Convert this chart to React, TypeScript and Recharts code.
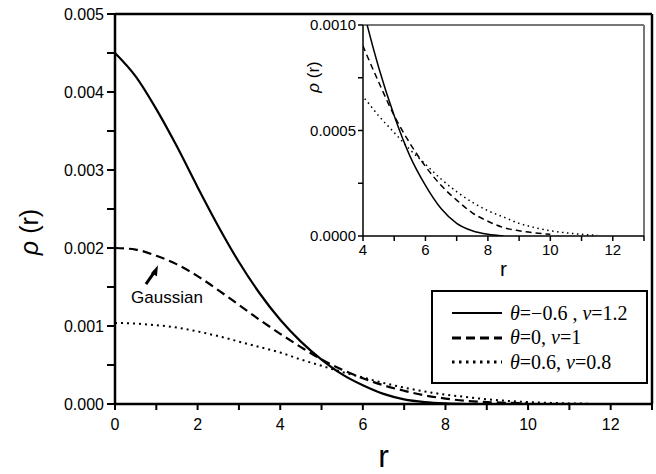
import { LineChart, Line, XAxis, YAxis, ReferenceLine, ReferenceDot, Label } from "recharts";

// r grid (shared by all curves, each curve stops where it reaches ~0)
const rGrid = [0, 0.5, 1, 1.5, 2, 2.5, 3, 3.5, 4, 4.5, 5, 5.5, 6, 6.5, 7, 7.5, 8, 8.5, 9, 9.5, 10, 10.5, 11, 11.5];

// theta=-0.6, nu=1.2
const rhoSolid = [0.0045, 0.0042, 0.00378, 0.0033, 0.00278, 0.00228, 0.00182, 0.00142, 0.00108, 0.0008, 0.00057, 0.00038, 0.00024, 0.00013, 0.00006, 0.000025, 0.000008, 0];
// theta=0, nu=1 (Gaussian)
const rhoDashed = [0.002, 0.00198, 0.0019, 0.00179, 0.00164, 0.00146, 0.00127, 0.00108, 0.0009, 0.00073, 0.00057, 0.00044, 0.00033, 0.00024, 0.00017, 0.00011, 0.00007, 0.00004, 0.000025, 0.000015, 0.000008];
// theta=0.6, nu=0.8
const rhoDotted = [0.00104, 0.00103, 0.00101, 0.00098, 0.00093, 0.00087, 0.0008, 0.00073, 0.00066, 0.00057, 0.00049, 0.00041, 0.00034, 0.00027, 0.00021, 0.00016, 0.00012, 0.00009, 0.00006, 0.00004, 0.000025, 0.000015, 0.000008, 0.000003];

const mainXTicks = [0, 1, 2, 3, 4, 5, 6, 7, 8, 9, 10, 11, 12, 13];
const mainYTicks = [0, 0.0005, 0.001, 0.0015, 0.002, 0.0025, 0.003, 0.0035, 0.004, 0.0045, 0.005];
const insetXTicks = [4, 5, 6, 7, 8, 9, 10, 11, 12, 13];
const insetYTicks = [0, 0.00025, 0.0005, 0.00075, 0.001];

const toPoints = (vals: number[]) => vals.map((v, i) => ({ r: rGrid[i], rho: v }));
const solidData = toPoints(rhoSolid);
const dashedData = toPoints(rhoDashed);
const dottedData = toPoints(rhoDotted);

const series = [
  { key: "s", data: solidData, dash: undefined as string | undefined, theta: "=\u22120.6 , ", nu: "=1.2" },
  { key: "d", data: dashedData, dash: "9 5", theta: "=0, ", nu: "=1" },
  { key: "p", data: dottedData, dash: "2 4", theta: "=0.6, ", nu: "=0.8" },
];

const sans = "'Liberation Sans', Arial, sans-serif";

// tick label with explicit font size
const makeTick = (size: number, fmt: (v: number) => string) => (props: any) => {
  const { x, y, payload, textAnchor, verticalAnchor } = props;
  const label = fmt(payload.value);
  if (!label) return <g />;
  const dy = verticalAnchor === "start" ? "0.8em" : "0.35em";
  return (
    <text x={x} y={y} dy={dy} textAnchor={textAnchor} fontSize={size} fontFamily={sans} fill="#000">
      {label}
    </text>
  );
};

const fmtMainX = (v: number) => (v % 2 === 0 && v <= 12 ? String(v) : "");
const fmtMainY = (v: number) => (Math.round(v * 10000) % 10 === 0 ? v.toFixed(3) : "");
const fmtInsetY = (v: number) => (Math.round(v * 100000) % 50 === 0 ? v.toFixed(4) : "");

function GaussianArrow(props: any) {
  const { cx, cy } = props;
  if (cx == null || cy == null) return null;
  return (
    <g>
      <line x1={cx - 12} y1={cy + 19} x2={cx - 3} y2={cy + 6} stroke="#000" strokeWidth={3} />
      <polygon points={`${cx},${cy} ${cx - 7},${cy + 8} ${cx - 1},${cy + 11}`} fill="#000" />
      <text x={cx + 9} y={cy + 38} textAnchor="middle" fontSize={17} fontFamily={sans} fill="#000">
        Gaussian
      </text>
    </g>
  );
}

const rhoLabel = (x: number, y: number, size: number) => () =>
  (
    <text x={x} y={y} transform={`rotate(-90 ${x} ${y})`} textAnchor="middle" dominantBaseline="central" fontSize={size} fontFamily={sans} fill="#000">
      <tspan fontStyle="italic">{"\u03C1"}</tspan>
      {" (r)"}
    </text>
  );

export default function App() {
  return (
    <div style={{ position: "absolute", left: 0, top: 0, width: 656, height: 474, background: "#fff" }}>
      <LineChart width={656} height={474} margin={{ top: 14, right: 4, left: 0, bottom: 0 }}>
        <XAxis
          dataKey="r"
          type="number"
          domain={[0, 13]}
          ticks={mainXTicks}
          height={70}
          tick={makeTick(16, fmtMainX)}
          tickSize={6}
          tickMargin={7}
          axisLine={{ stroke: "#000", strokeWidth: 2.5 }}
          tickLine={{ stroke: "#000", strokeWidth: 2 }}
          allowDuplicatedCategory={false}
        >
          <Label value="r" position="insideBottom" offset={7} style={{ fontSize: 32, fontFamily: sans, fill: "#000" }} />
        </XAxis>
        <YAxis
          type="number"
          domain={[0, 0.005]}
          ticks={mainYTicks}
          width={115}
          tick={makeTick(16, fmtMainY)}
          tickSize={8}
          tickMargin={3}
          axisLine={{ stroke: "#000", strokeWidth: 2.5 }}
          tickLine={{ stroke: "#000", strokeWidth: 2 }}
        >
          <Label content={rhoLabel(29, 232, 25)} />
        </YAxis>
        <ReferenceLine y={0.005} stroke="#000" strokeWidth={2.5} />
        <ReferenceLine x={13} stroke="#000" strokeWidth={2.5} />
        {series.map((s) => (
          <Line
            key={s.key}
            data={s.data}
            dataKey="rho"
            type="monotone"
            stroke="#000"
            strokeWidth={s.key === "p" ? 2 : 2.2}
            strokeDasharray={s.dash}
            dot={false}
            isAnimationActive={false}
          />
        ))}
        <ReferenceDot x={1.04} y={0.00178} r={0} shape={GaussianArrow} />
      </LineChart>

      <div style={{ position: "absolute", left: 280, top: 10, width: 370, height: 275 }}>
        <div style={{ position: "absolute", left: 83, top: 15, width: 281, height: 211, background: "#fff" }} />
        <LineChart width={370} height={275} margin={{ top: 15, right: 6, left: 0, bottom: 0 }}>
          <XAxis
            dataKey="r"
            type="number"
            domain={[4, 13]}
            ticks={insetXTicks}
            allowDataOverflow
            height={49}
            tick={makeTick(15, fmtMainX)}
            tickSize={5}
            tickMargin={2}
            axisLine={{ stroke: "#000", strokeWidth: 1.5 }}
            tickLine={{ stroke: "#000", strokeWidth: 1.5 }}
          >
            <Label value="r" position="insideBottom" offset={9} style={{ fontSize: 21, fontFamily: sans, fill: "#000" }} />
          </XAxis>
          <YAxis
            type="number"
            domain={[0, 0.001]}
            ticks={insetYTicks}
            allowDataOverflow
            width={83}
            tick={makeTick(15, fmtInsetY)}
            tickSize={5}
            tickMargin={2}
            axisLine={{ stroke: "#000", strokeWidth: 1.5 }}
            tickLine={{ stroke: "#000", strokeWidth: 1.5 }}
          >
            <Label content={rhoLabel(33, 67, 17)} />
          </YAxis>
          <ReferenceLine y={0.001} stroke="#777" strokeWidth={2} />
          <ReferenceLine x={13} stroke="#777" strokeWidth={2} />
          {series.map((s) => (
            <Line
              key={s.key}
              data={s.data}
              dataKey="rho"
              type="monotone"
              stroke="#000"
              strokeWidth={1.5}
              strokeDasharray={s.dash === "9 5" ? "6 4" : s.dash === "2 4" ? "1.5 3.5" : undefined}
              dot={false}
              isAnimationActive={false}
            />
          ))}
        </LineChart>
      </div>

      <div
        style={{
          position: "absolute",
          left: 431,
          top: 290,
          width: 213,
          height: 90,
          border: "2px solid #000",
          background: "#fff",
          fontFamily: "'Liberation Serif', 'Times New Roman', serif",
          fontSize: 20,
        }}
      >
        {series.map((s, i) => (
          <div key={s.key} style={{ position: "absolute", left: 18, top: 9 + i * 24.5, height: 24, display: "flex", alignItems: "center" }}>
            <svg width={52} height={10}>
              <line x1={1} y1={5} x2={51} y2={5} stroke="#000" strokeWidth={s.key === "s" ? 2 : 3} strokeDasharray={s.dash === "2 4" ? "2.5 4.5" : s.dash} />
            </svg>
            <span style={{ marginLeft: 7, whiteSpace: "nowrap" }}>
              <i>{"\u03B8"}</i>
              {s.theta}
              <i>{"\u03BD"}</i>
              {s.nu}
            </span>
          </div>
        ))}
      </div>
    </div>
  );
}
